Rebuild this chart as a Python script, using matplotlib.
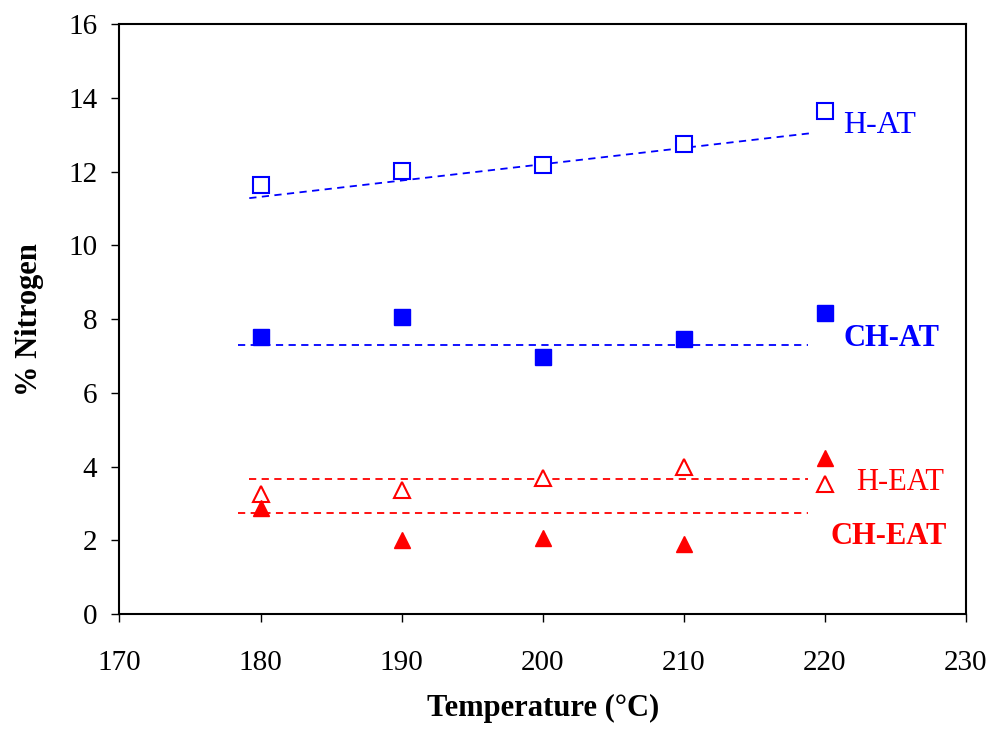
import matplotlib
matplotlib.use("Agg")
import matplotlib.pyplot as plt

# ── Data ─────────────────────────────────────────────────────────────────────
temps = [180, 190, 200, 210, 220]

h_at   = [11.64, 12.02, 12.18, 12.74, 13.65]
ch_at  = [7.52, 8.06, 6.98, 7.46, 8.17]
h_eat  = [3.25, 3.36, 3.69, 3.99, 3.52]
ch_eat = [2.87, 2.00, 2.06, 1.90, 4.22]

# dashed guide lines: (x0, x1), (y0, y1)
h_at_line_x,   h_at_line_y   = [179.2, 219.2], [11.28, 13.05]
ch_at_line_x,  ch_at_line_y  = [178.4, 218.8], [7.31, 7.31]
h_eat_line_x,  h_eat_line_y  = [179.2, 218.8], [3.66, 3.66]
ch_eat_line_x, ch_eat_line_y = [178.4, 218.8], [2.75, 2.75]

BLUE = "#0000ff"
RED = "#ff0000"

plt.rcParams["font.family"] = ["Liberation Serif", "DejaVu Serif"]

fig = plt.figure(figsize=(9.94, 7.31), dpi=100)
ax = fig.add_axes([0.1202, 0.16, 0.8516, 0.807])

# ── Series ───────────────────────────────────────────────────────────────────
ax.plot(temps, h_at, ls="none", marker="s", ms=11, mfc="white",
        mec=BLUE, mew=1.5, zorder=3)
ax.plot(temps, ch_at, ls="none", marker="s", ms=11, mfc=BLUE,
        mec=BLUE, zorder=3)
ax.plot(temps, h_eat, ls="none", marker="^", ms=12, mfc="white",
        mec=RED, mew=1.5, zorder=3)
ax.plot(temps, ch_eat, ls="none", marker="^", ms=12, mfc=RED,
        mec=RED, zorder=3)

dash = dict(ls=(0, (4, 3)), lw=1.3, zorder=2)
ax.plot(h_at_line_x, h_at_line_y, color=BLUE, **dash)
ax.plot(ch_at_line_x, ch_at_line_y, color=BLUE, **dash)
ax.plot(h_eat_line_x, h_eat_line_y, color=RED, **dash)
ax.plot(ch_eat_line_x, ch_eat_line_y, color=RED, **dash)

# ── Labels ───────────────────────────────────────────────────────────────────
ax.text(221.3, 13.26, "H-AT", color=BLUE, fontsize=23, va="center")
ax.text(221.3, 7.48, "CH-AT", color=BLUE, fontsize=22, va="center",
        fontweight="bold")
ax.text(222.2, 3.58, "H-EAT", color=RED, fontsize=22, va="center")
ax.text(220.4, 2.09, "CH-EAT", color=RED, fontsize=22, va="center",
        fontweight="bold")

# ── Axes ─────────────────────────────────────────────────────────────────────
ax.set_xlim(170, 230)
ax.set_ylim(0, 16)
ax.set_xticks(range(170, 231, 10))
ax.set_yticks(range(0, 17, 2))
ax.tick_params(direction="out", length=6, width=1, labelsize=21, pad=10)
ax.tick_params(axis="x", pad=20)
for s in ax.spines.values():
    s.set_linewidth(1.5)

ax.set_xlabel("Temperature (°C)", fontsize=22, fontweight="bold", labelpad=13)
ax.set_ylabel("% Nitrogen", fontsize=22, fontweight="bold", labelpad=17)

plt.savefig("out.png", dpi=100, facecolor="white")
